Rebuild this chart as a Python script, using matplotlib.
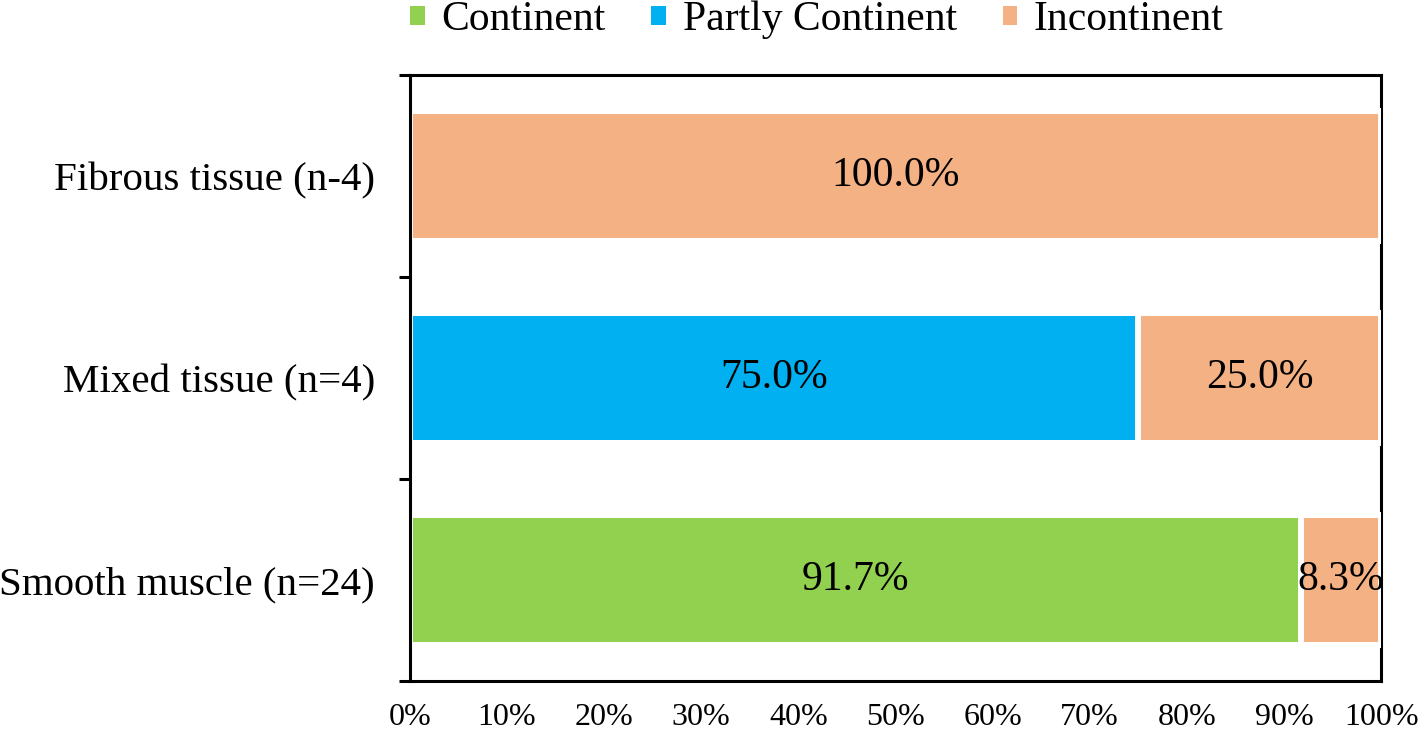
import matplotlib
matplotlib.use("Agg")
import matplotlib.pyplot as plt
from matplotlib.patches import Patch
import numpy as np

plt.rcParams['font.family'] = ['Liberation Serif', 'DejaVu Serif']

# bottom to top
groups = ["Smooth muscle (n=24)", "Mixed tissue (n=4)", "Fibrous tissue (n-4)"]
series = ["Continent", "Partly Continent", "Incontinent"]
continent = [91.7, 0.0, 0.0]
partly = [0.0, 75.0, 0.0]
incontinent = [8.3, 25.0, 100.0]
colors = ["#92D050", "#00B0F0", "#F4B183"]
xticks = [0, 10, 20, 30, 40, 50, 60, 70, 80, 90, 100]

fig = plt.figure(figsize=(14.18, 7.32), dpi=100)
ax = fig.add_axes([0.289, 0.0697, 0.685, 0.828])

y = np.arange(len(groups))
left = np.zeros(len(groups))
for name, vals, c in zip(series, [continent, partly, incontinent], colors):
    vals = np.array(vals)
    ax.barh(y, vals, left=left, height=0.645, color=c, edgecolor="white",
            linewidth=4.3, zorder=3, label=name)
    for yi, l, v in zip(y, left, vals):
        if v > 0:
            ax.text(l + v / 2, yi, f"{v:.1f}%", ha="center", va="center",
                    fontsize=30, color="black", zorder=4)
    left += vals

ax.set_xlim(0, 100)
ax.set_ylim(-0.5, 2.5)
ax.set_xticks(xticks)
ax.set_xticklabels([f"{t}%" for t in xticks], fontsize=23)
ax.set_yticks(y)
ax.set_yticklabels(groups, fontsize=29.5)
ax.tick_params(axis="x", length=0, pad=16)
ax.tick_params(axis="y", which="major", length=0, pad=25)
ax.set_yticks([-0.5, 0.5, 1.5, 2.5], minor=True)
ax.tick_params(axis="y", which="minor", length=8, width=2.2, direction="out")
for s in ax.spines.values():
    s.set_linewidth(2.2)
    s.set_zorder(1)
ax.spines["left"].set_zorder(5)

handles = [Patch(facecolor=c, edgecolor="none") for c in colors]
fig.legend(handles, series, loc="upper center", bbox_to_anchor=(0.576, 1.05),
           ncol=3, frameon=False, fontsize=30, handlelength=0.35, handleheight=0.35,
           handletextpad=0.4, columnspacing=1.1)

fig.savefig("out.png", dpi=100, facecolor="white")
